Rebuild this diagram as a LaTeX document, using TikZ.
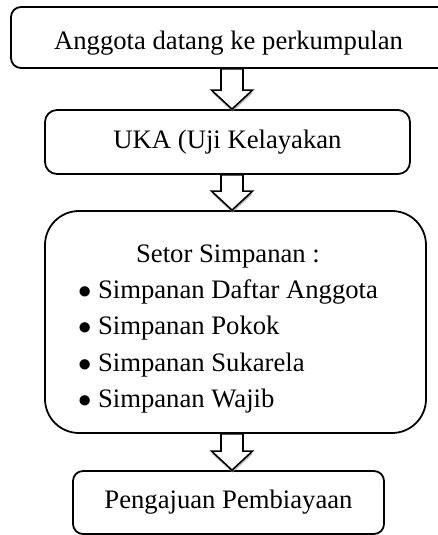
\documentclass[tikz,border=0pt]{standalone}
\usepackage{fontspec}
\setmainfont{Liberation Serif}
\usetikzlibrary{calc,shadows}

\newdimen\px \px=0.45pt

\tikzset{
  box/.style = {draw, line width=0.8pt, fill=white, align=center},
  blockarrow/.style = {draw, line width=0.7pt, fill=white,
    drop shadow={shadow xshift=0.2pt, shadow yshift=-1.2pt, opacity=0.55, fill=gray}},
}

\begin{document}
\begin{tikzpicture}[x=0.45pt, y=-0.45pt, font=\fontsize{12}{14.5}\selectfont]
  \useasboundingbox (0,0) rectangle (438,535);
  \coordinate (ax) at (232,0);
  % the four steps (the first one runs off the right edge): 
  \node [box, rounded corners=10\px, minimum width=520\px, minimum height=61\px,
    text height=11.2pt, text depth=0pt]
    (s1) at (271,37.5) {Anggota datang ke perkumpulan\hspace*{85\px}};
  \node [box, rounded corners=12\px, minimum width=365\px, minimum height=64\px]
    (s2) at (227.5,142) {UKA (Uji Kelayakan};
  \node [box, rounded corners=34\px, minimum width=381\px, minimum height=222\px]
    (s3) at (235.5,322) {\raisebox{-2.5pt}[\height][\depth]{%
      \renewcommand{\arraystretch}{1.13}%
      \begin{tabular}{@{}l@{}}
        \multicolumn{1}{c}{Setor Simpanan :}\\
        $\bullet$ Simpanan Daftar Anggota\\
        $\bullet$ Simpanan Pokok\\
        $\bullet$ Simpanan Sukarela\\
        $\bullet$ Simpanan Wajib
      \end{tabular}}\hspace*{15\px}};
  \node [box, rounded corners=10\px, minimum width=311\px, minimum height=63\px]
    (s4) at (228.5,502.5) {Pengajuan Pembiayaan};
  % block arrows between steps: 
  \foreach [evaluate = {\j=int(\i+1)}] \i in {1,...,3}
    \draw [blockarrow] let \p1=(s\i.south), \p2=(s\j.north), \p3=(ax) in
      (\x3-11\px,\y1) -- (\x3-11\px,\y2+19\px) -- (\x3-20.5\px,\y2+19\px)
      -- (\x3,\y2) -- (\x3+20.5\px,\y2+19\px) -- (\x3+11\px,\y2+19\px)
      -- (\x3+11\px,\y1) -- cycle;
\end{tikzpicture}
\end{document}
